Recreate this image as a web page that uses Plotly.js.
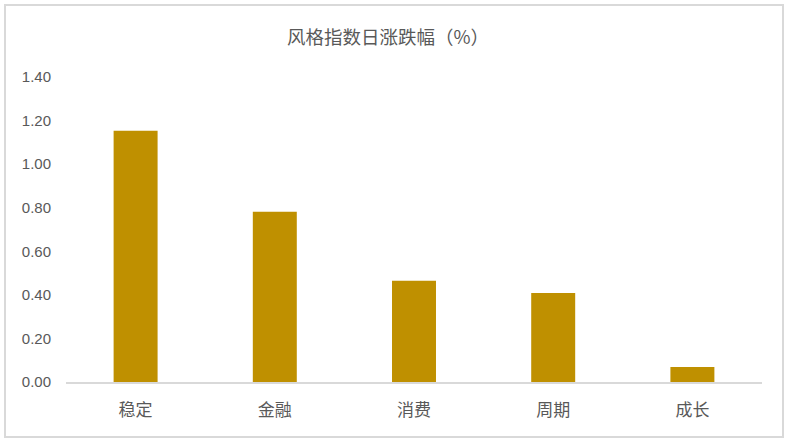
<!DOCTYPE html>
<html>
<head>
<meta charset="utf-8">
<script src="https://cdn.plot.ly/plotly-3.0.1.min.js"></script>
<style>
html,body{margin:0;padding:0;background:#fff;}
#chart{width:791px;height:441px;}
</style>
</head>
<body>
<div id="chart"></div>
<script>
const categories = ["稳定", "金融", "消费", "周期", "成长"];
const values = [1.153, 0.782, 0.465, 0.408, 0.069];
const yTickVals = [0, 0.2, 0.4, 0.6, 0.8, 1.0, 1.2, 1.4];
const yTickText = ["0.00", "0.20", "0.40", "0.60", "0.80", "1.00", "1.20", "1.40"];
const titleText = "风格指数日涨跌幅（%）";

const W = 791, H = 441;
const m = {l: 66, r: 29, t: 77, b: 59, pad: 0};
const pw = W - m.l - m.r, ph = H - m.t - m.b;
const px = v => (v - m.l) / pw;
const py = v => (H - m.b - v) / ph;

const trace = {
  type: "bar",
  x: categories,
  y: values,
  marker: {color: "#BF9000", line: {width: 0}},
  hoverinfo: "x+y"
};

const layout = {
  width: W, height: H,
  margin: m,
  paper_bgcolor: "#ffffff",
  plot_bgcolor: "#ffffff",
  showlegend: false,
  bargap: 0.684,
  font: {family: "Liberation Sans, Noto Sans CJK SC, sans-serif", color: "#595959"},
  title: {
    text: titleText,
    font: {family: "Noto Sans CJK SC, sans-serif", size: 18.5, color: "#595959"},
    x: 388 / W, xref: "container", xanchor: "center",
    y: 1 - 37.5 / H, yref: "container", yanchor: "middle"
  },
  xaxis: {
    type: "category",
    showgrid: false,
    zeroline: false,
    showline: true,
    linecolor: "#d9d9d9",
    linewidth: 1.5,
    ticks: "",
    tickfont: {family: "Noto Sans CJK SC, sans-serif", size: 17, color: "#595959"},
    ticklabelstandoff: 12
  },
  yaxis: {
    range: [0, 1.4],
    showgrid: false,
    zeroline: false,
    showline: false,
    ticks: "",
    tickmode: "array",
    tickvals: yTickVals,
    ticktext: yTickText,
    tickfont: {family: "Liberation Sans, sans-serif", size: 15, color: "#595959"},
    ticklabelstandoff: 14
  },
  shapes: [{
    type: "rect", xref: "paper", yref: "paper",
    x0: px(5), x1: px(783), y0: py(437), y1: py(5),
    line: {color: "#d9d9d9", width: 2},
    fillcolor: "rgba(0,0,0,0)",
    layer: "above"
  }]
};

Plotly.newPlot("chart", [trace], layout, {displayModeBar: false, staticPlot: true});
</script>
</body>
</html>
